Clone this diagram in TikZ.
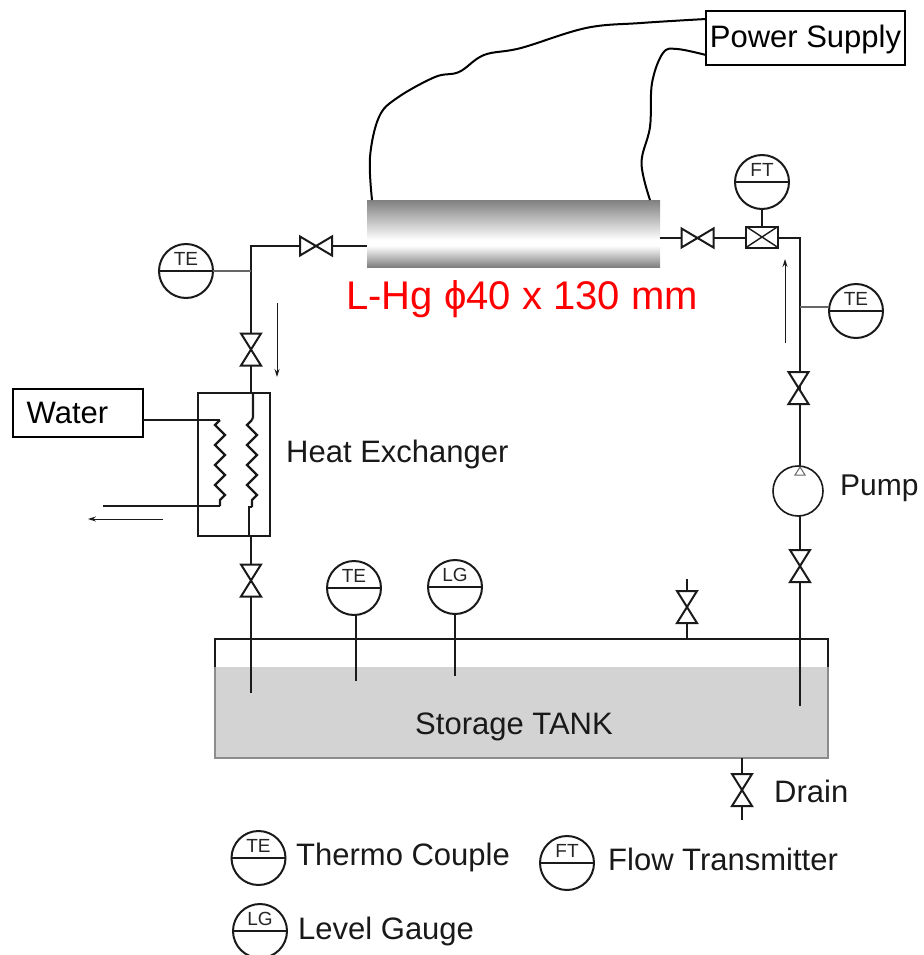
\documentclass[tikz,border=0pt]{standalone}
\usepackage{xcolor}
\usepackage{fontspec}
\setmainfont{Liberation Sans}
\usetikzlibrary{
  arrows.meta,
  calc,
  decorations.pathmorphing
}
\definecolor{pfdLiquid}{HTML}{D3D3D3}
\definecolor{pfdEdge}{HTML}{8C8C8C}
\definecolor{pfdLine}{HTML}{1A1A1A}
\pgfdeclareverticalshading{heatershade}{100bp}{
  color(0bp)=(black!50);
  color(25bp)=(black!50);
  color(41bp)=(white);
  color(45bp)=(white);
  color(75bp)=(black!50);
  color(100bp)=(black!50)
}
\tikzset{
  pipe/.style={line width=2.2pt, pfdLine},
  tapline/.style={line width=1.2pt, black!60},
  wire/.style={line width=2pt, black},
  boxnode/.style={draw=black, line width=2pt, inner sep=0pt, outer sep=0pt, font=\fontsize{31}{31}\selectfont},
  valvebox/.style={minimum width=#1, inner sep=0pt, outer sep=0pt},
  valveline/.style={line width=2pt, pfdLine},
  gauge/.style={
    circle, draw=pfdLine, line width=2pt, fill=white, minimum size=54pt, inner sep=0pt, outer sep=0pt,
    text height=14pt, text depth=26pt, font=\fontsize{19}{19}\selectfont, text=black!85,
    path picture={\draw[line width=2pt, pfdLine] (path picture bounding box.west) -- (path picture bounding box.east);}
  },
  pump/.style={circle, draw=pfdLine, line width=1.6pt, fill=white, minimum size=50pt, inner sep=0pt, outer sep=0pt},
  flowbox/.style={
    draw=pfdLine, line width=2pt, fill=white, minimum width=32pt, minimum height=21pt, inner sep=0pt, outer sep=0pt,
    path picture={\draw[line width=1.4pt, pfdLine] (path picture bounding box.north west) -- (path picture bounding box.south east)
      (path picture bounding box.north east) -- (path picture bounding box.south west);}
  },
  flowarrow/.style={-{Stealth[length=8pt, width=5pt]}, line width=1pt, pfdLine},
  coil/.style={line width=2.2pt, pfdLine, decorate, decoration={zigzag, segment length=20pt, amplitude=5pt, mirror}},
  tag/.style={font=\fontsize{31}{31}\selectfont, inner sep=0pt, anchor=west, text=black!90}
}
\begin{document}
\begin{tikzpicture}[x=1pt, y=-1pt]
  \useasboundingbox (0,0) rectangle (923,955);
  % tank
  \node[fill=pfdLiquid, minimum width=613pt, minimum height=91pt, inner sep=0pt, outer sep=0pt] (liquid) at (521.5,712.5) {};
  \draw[line width=1.5pt, pfdEdge] (liquid.north west) |- (liquid.south east) -- (liquid.north east);
  \draw[line width=1.8pt, pfdLine] (liquid.north west) -- ++(0,-28) -| (liquid.north east);
  \node[tag, anchor=center] (tankname) at (514,727) {Storage TANK};
  % heater
  \node[minimum width=293pt, minimum height=67pt, inner sep=0pt, outer sep=0pt, shading=heatershade] (heater) at (513.5,233.5) {};
  \node[font=\fontsize{40}{40}\selectfont, text=red, inner sep=0pt] (heatername) at (522,299) {L-Hg ϕ40 x 130 mm};
  \node[boxnode, minimum width=199pt, minimum height=54pt, text height=20pt, text depth=0pt] (supply) at (805.5,38) {Power Supply};
  \foreach \nm/\px/\py in {
    wireAa/372/200, wireBa/650/200, wireAb/706/19, wireBb/706/55,
    elbowL/251/246, elbowR/800/238, dipL/251/693, dipR/800/706,
    dipTE/356/681, dipLG/455/676, ventT/687/579, ventB/687/639,
    drainT/742/758, drainB/742/820, hxIn/253/417, hxOut/249/507,
    coilLa/220/420, coilLb/220/506, coilRa/252/420, coilRb/252/507,
    waterEnd/103/506, tapL/251/271, tapR/800/307,
    flowAa/277/303, flowAb/277/377, flowBa/785/343, flowBb/785/259,
    flowCa/163/519, flowCb/88/519}{
    \coordinate (\nm) at (\px,\py);
  }
  % pipes first, valves over them
  \draw[pipe] (heater.west |- elbowL) -- (elbowL) -- (dipL);
  \draw[pipe] (heater.east |- elbowR) -- (elbowR) -- (dipR);
  \draw[pipe] (dipTE) -- ++(0,-70);
  \draw[pipe] (dipLG) -- ++(0,-70);
  \draw[pipe] (ventT) -- (ventB);
  \draw[pipe] (drainT) -- (drainB);
  \foreach \nm/\px/\py in {valveA/316/246, valveF/697.5/238}{
    \node[valvebox=32pt, minimum height=19pt] (\nm) at (\px,\py) {};
    \draw[valveline, fill=white] (\nm.north west) -- (\nm.south east) -- (\nm.north east) -- (\nm.south west) -- cycle;
  }
  \foreach \nm/\px/\py in {valveB/251/349.5, valveC/251/580.5, valveD/798.5/388, valveE/800/566, valveG/687/607, valveH/742/790}{
    \node[valvebox=20pt, minimum height=32pt] (\nm) at (\px,\py) {};
    \draw[valveline, fill=white] (\nm.north west) -- (\nm.north east) -- (\nm.south west) -- (\nm.south east) -- cycle;
  }
  % heat exchanger
  \node[draw=pfdLine, line width=2pt, fill=white, minimum width=72pt, minimum height=143pt, inner sep=0pt, outer sep=0pt] (hx) at (233.5,464.5) {};
  \node[boxnode, minimum width=130pt, minimum height=48pt] (water) at (77.5,413) {Water\hspace*{20pt}};
  \node[tag] (hxname) at (286,454) {Heat Exchanger};
  \draw[pipe] (hx.north -| hxIn) -- (hxIn) -- (coilRa);
  \draw[coil] (coilRa) -- (coilRb);
  \draw[pipe] (coilRb) -- (hxOut) -- (hx.south -| hxOut);
  \draw[pipe] (water.east |- coilLa) -- (coilLa);
  \draw[coil] (coilLa) -- (coilLb);
  \draw[pipe] (coilLb) -- (waterEnd);
  \draw[flowarrow] (flowCa) -- (flowCb);
  % instruments
  \node[gauge] (teLeft) at (186,271) {TE};
  \node[gauge] (teRight) at (856,311) {TE};
  \node[gauge] (ftTop) at (762,182) {FT};
  \node[gauge] (teTank) at (354,588) {TE};
  \node[gauge] (lgTank) at (455,587) {LG};
  \node[flowbox] (flowmeter) at (762,237) {};
  \draw[pipe] (ftTop) -- (flowmeter);
  \draw[tapline] (teLeft.east) -- (tapL);
  \draw[tapline] (tapR) -- (teRight.west |- tapR);
  \draw[flowarrow] (flowAa) -- (flowAb);
  \draw[flowarrow] (flowBa) -- (flowBb);
  % pump
  \node[pump] (pumpA) at (798,491) {};
  \draw[line width=1pt, black!60, fill=white] (pumpA.north) ++(2,1) -- ++(5,8) -- ++(-10,0) -- cycle;
  \node[tag, font=\fontsize{30}{30}\selectfont] (pumpname) at (840,488) {Pump};
  \node[tag] (drainname) at (774,791) {Drain};
  % wires
  \draw[wire] plot[smooth, tension=0.6] coordinates {(wireAa) (370,157) (379,117) (397,98) (435,77) (459,72) (484,55) (521,48) (586,28) (641,23) (wireAb)};
  \draw[wire] plot[smooth, tension=0.6] coordinates {(wireBa) (641.5,163) (650,127) (652,83) (663,53) (677,49) (wireBb)};
  % legend
  \foreach \nm/\px/\py/\sym/\tx/\lx/\ly in {
    keyTE/258.5/858/TE/Thermo Couple/296/857,
    keyFT/567/863/FT/Flow Transmitter/608/859,
    keyLG/260/931/LG/Level Gauge/298/931}{
    \node[gauge] (\nm) at (\px,\py) {\sym};
    \node[tag] (\nm name) at (\lx,\ly) {\tx};
  }
\end{tikzpicture}
\end{document}
